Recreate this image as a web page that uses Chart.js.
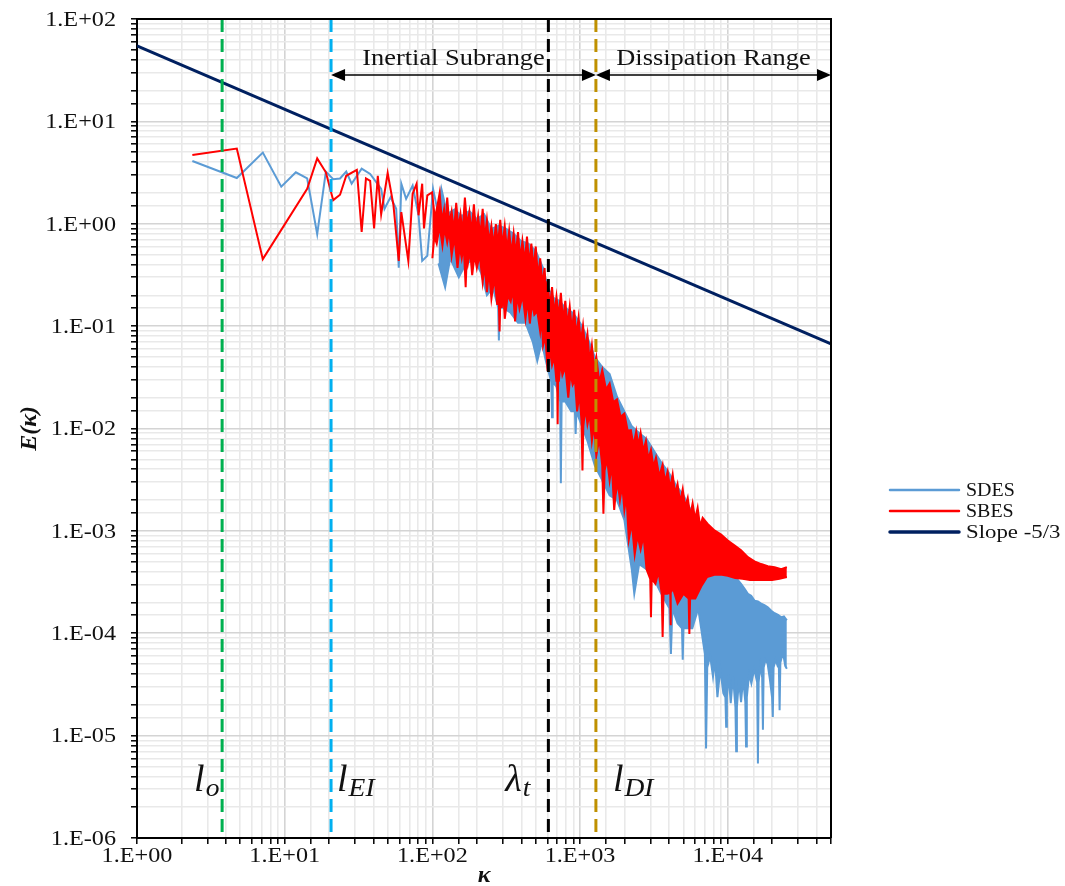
<!DOCTYPE html>
<html><head><meta charset="utf-8">
<script src="https://cdn.jsdelivr.net/npm/chart.js@4.4.0/dist/chart.umd.min.js"></script>
<style>html,body{margin:0;padding:0;background:#fff;}canvas{display:block;}</style>
</head><body>
<canvas id="c" width="1065" height="886"></canvas>
<script>
// ---------- DATA ([kappa, E]) ----------
// SDES: sparse low-wavenumber points, then the upper edge of the dense band
const sdesUpper = [[2.37,4.1],[4.74,2.8],[7.11,4.95],[9.48,2.3],[11.9,3.18],[14.2,2.77],[16.6,0.79],[19.0,3.23],[21.3,2.72],[23.7,2.77],[26.1,3.23],[28.4,2.46],[33.2,3.45],[37.9,3.06],[45.0,2.19],[47.4,1.40],[52.1,1.82],[56.9,1.40],[59.2,0.372],[61.6,2.46],[66.4,1.75],[73.5,2.36],[80.6,1.21],[85.3,0.434],[92.4,0.487],[101,2.19],[109,1.30],
  [115,2.2],[126,1.24],[141,1.38],[158,1.19],[178,1.33],[200,1.11],[224,1.24],[251,0.89],[282,0.96],[316,0.89],[355,0.80],[398,0.68],[447,0.64],[501,0.54],[562,0.37],[603,0.237],[661,0.189],[724,0.177],[794,0.151],[891,0.135],[1000,0.108],[1122,0.0776],[1259,0.0497],[1413,0.0398],[1585,0.0341],[1778,0.0204],[1995,0.0147],[2239,0.0105],[2512,0.00905],[2818,0.00793],[3162,0.00605],[3548,0.00465],[3981,0.00372],[4467,0.00279],[5012,0.00223],[5623,0.0016],[6310,0.00115],[6918,0.000474],[7244,0.000422],[7700,0.000501],[8128,0.000406],[8600,0.000454],[9016,0.000379],[9500,0.00047],[10000,0.000422],[10500,0.000372],[11090,0.000355],[11700,0.000331],[12300,0.000304],[13000,0.000272],[13680,0.000243],[14400,0.000232],[15170,0.000208],[16000,0.000204],[16830,0.000195],[17700,0.000188],[18660,0.000179],[19700,0.000166],[20750,0.000157],[21900,0.000151],[23010,0.000143],[24000,0.000146],[25120,0.000134]];
// SDES: lower edge of the dense band (with its downward spikes)
const sdesLower = [[110,0.41],[122,0.24],[132,0.46],[151,0.30],[166,0.39],[191,0.46],[214,0.329],[234,0.201],[257,0.237],[279,0.151],[282,0.0725],[285,0.151],[302,0.151],[339,0.135],[380,0.108],[427,0.108],[479,0.0696],[513,0.0457],[550,0.0696],[589,0.0446],[638,0.0286],[646,0.0129],[653,0.0286],[692,0.0256],[733,0.0184],[741,0.00292],[750,0.0184],[794,0.0184],[871,0.0147],[923,0.0147],[933,0.00884],[944,0.0147],[1000,0.0118],[1122,0.00757],[1259,0.00434],[1413,0.00312],[1585,0.00223],[1778,0.002],[1995,0.00128],[2239,0.000422],[2328,0.000243],[2512,0.000474],[2818,0.000422],[3162,0.00034],[3548,0.000243],[4027,0.000175],[4121,6.28e-5],[4217,0.000175],[4571,0.000125],[4898,0.000112],[4955,5.5e-5],[5012,0.000112],[5754,0.000112],[6310,0.000175],[6998,6.28e-5],[7129,7.5e-6],[7261,4.62e-5],[7600,6e-5],[7943,3.77e-5],[8200,5.5e-5],[8511,2.37e-5],[8900,4.5e-5],[9333,2.59e-5],[9638,2.37e-5],[9750,1.22e-5],[9863,2.37e-5],[10150,4e-5],[10470,2.08e-5],[10850,3.8e-5],[11270,1.9e-5],[11400,7.03e-6],[11530,1.9e-5],[11900,3.5e-5],[12300,2.12e-5],[12700,3.6e-5],[13150,2.12e-5],[13300,7.84e-6],[13460,2.37e-5],[13950,4e-5],[14450,3.24e-5],[15100,4.5e-5],[15810,3.31e-5],[16000,5.35e-6],[16180,3.31e-5],[16600,4.8e-5],[17100,3.7e-5],[17300,1.14e-5],[17500,4.62e-5],[18000,5.5e-5],[18620,5.03e-5],[19300,3.5e-5],[19950,2.37e-5],[20180,1.52e-5],[20420,4.62e-5],[21100,5.5e-5],[21830,4.73e-5],[22180,4.62e-5],[22440,1.77e-5],[22700,5.16e-5],[23300,6e-5],[23990,5.75e-5],[24500,4.8e-5],[25120,4.5e-5]];
// SBES: sparse points, then the (notched) upper edge of the dense band
const sbesUpper = [[2.37,4.7],[4.74,5.43],[7.11,0.451],[14.2,2.19],[16.6,4.35],[19.0,3.18],[21.3,1.70],[23.7,1.92],[26.1,2.94],[30.8,3.36],[33.2,0.83],[35.5,2.77],[37.9,2.63],[40.3,0.90],[42.7,2.94],[45.0,1.24],[49.8,3.13],[54.5,1.52],[59.2,0.434],[61.6,1.30],[68.7,0.434],[73.5,1.96],[78.2,2.46],[80.6,1.21],[85.3,2.46],[87.7,0.90],[92.4,1.89],[99.5,2.02],[104,1.12],[109,1.60],
  [112,2.0],[116,1.05],[120,1.38],[123,0.9],[126,1.8],[130,1.0],[135,1.32],[140,0.85],[145,1.6],[150,0.9],[155,1.24],[160,0.8],[166,1.8],[172,0.95],[178,1.30],[184,0.8],[191,1.55],[197,0.85],[204,1.19],[211,0.75],[219,1.4],[226,0.7],[234,1.09],[242,0.65],[251,0.95],[260,0.6],[269,0.99],[278,0.62],[288,1.09],[298,0.6],[309,0.95],[320,0.55],[331,0.85],[343,0.5],[355,0.80],[367,0.5],[380,0.83],[393,0.45],[407,0.68],[422,0.42],[437,0.75],[452,0.4],[468,0.64],[484,0.36],[501,0.60],[519,0.3],[537,0.46],[556,0.25],[575,0.37],[589,0.2],[603,0.276],[624,0.15],[646,0.240],[669,0.13],[692,0.194],[716,0.12],[741,0.211],[767,0.11],[794,0.177],[822,0.1],[851,0.155],[881,0.09],[912,0.144],[944,0.08],[977,0.121],[1012,0.07],[1047,0.1015],[1084,0.06],[1122,0.0832],[1161,0.045],[1202,0.065],[1245,0.038],[1288,0.0497],
  [1350,0.028],[1413,0.0373],[1500,0.024],[1585,0.0275],[1680,0.018],[1778,0.0193],[1880,0.013],[1995,0.0140],[2100,0.0095],[2208,0.00963],[2300,0.0068],[2399,0.0094],[2480,0.0068],[2570,0.00905],[2680,0.006],[2793,0.00757],[2900,0.005],[3020,0.00619],[3140,0.0042],[3266,0.00519],[3440,0.0034],[3622,0.00444],[3760,0.003],[3917,0.0038],[4070,0.0026],[4236,0.00357],[4400,0.0023],[4571,0.00286],[4760,0.0019],[4955,0.00256],[5150,0.0017],[5358,0.0021],[5570,0.0014],[5781,0.00186],[6010,0.0013],[6252,0.00168],[6500,0.0011],[6761,0.00134],[7311,0.00117],[8128,0.00101],[9016,0.000922],[10000,0.000804],[11090,0.000721],[12300,0.000646],[13680,0.000553],[15170,0.000504],[16830,0.000474],[18660,0.000452],[20750,0.000442],[23010,0.000422],[25120,0.000442]];
// SBES: lower edge of the dense band
const sbesLower = [[100,0.46],[103,0.75],[107,0.64],[112,0.95],[117,0.613],[121,0.9],[126,0.657],[130,0.85],[135,0.49],[141,0.75],[148,0.37],[153,0.6],[158,0.46],[163,0.62],[168,0.24],[171,0.5],[174,0.41],[180,0.55],[186,0.314],[193,0.5],[200,0.37],[209,0.5],[219,0.269],[226,0.4],[234,0.215],[242,0.35],[251,0.185],[263,0.3],[275,0.161],[280,0.26],[285,0.0885],[290,0.24],[295,0.151],[302,0.22],[309,0.118],[324,0.2],[339,0.174],[351,0.23],[363,0.111],[376,0.2],[389,0.148],[408,0.2],[427,0.118],[442,0.18],[457,0.106],[473,0.17],[490,0.129],[513,0.14],[537,0.0885],[549,0.12],[562,0.065],[582,0.08],[603,0.0365],[624,0.06],[646,0.0416],[669,0.05],[692,0.0286],[699,0.04],[705,0.011],[711,0.04],[718,0.0286],[738,0.045],[759,0.0332],[795,0.04],[832,0.02],[861,0.035],[891,0.0268],[923,0.03],[955,0.0147],[990,0.022],[1023,0.0118],[1038,0.00389],[1052,0.0105],[1087,0.016],[1122,0.011],[1160,0.014],[1202,0.00757],[1245,0.011],[1288,0.00543],[1350,0.008],[1413,0.00434],[1439,0.00147],[1466,0.00389],[1525,0.005],[1585,0.00312],[1640,0.0045],[1702,0.0016],[1738,0.00223],[1800,0.003],[1862,0.002],[1930,0.0028],[1995,0.0016],[2060,0.0022],[2138,0.000822],[2240,0.0012],[2344,0.000589],[2450,0.0009],[2570,0.000657],[2690,0.0009],[2818,0.000422],[2985,0.00034],[3020,0.000143],[3055,0.00034],[3236,0.000304],[3400,0.0004],[3573,0.000243],[3622,9.18e-5],[3673,0.000243],[3890,0.000243],[4080,0.00025],[4100,0.00012],[4120,0.00025],[4266,0.000272],[4571,0.000195],[5012,0.000243],[5433,0.000218],[5495,9.85e-5],[5559,0.000218],[6026,0.000218],[6607,0.000286],[7244,0.000355],[8128,0.000372],[9120,0.000372],[10000,0.000364],[11220,0.000347],[12590,0.00034],[14130,0.000331],[15850,0.000331],[17780,0.000331],[19950,0.000331],[22390,0.00034],[25120,0.000355]];
// Reference line labelled "Slope -5/3"
const slopeLine = [[1, 54.5], [50000, 0.067]];
// Vertical markers
const markerK = [3.77, 20.6, 610, 1280];
const markerMain = ['l', 'l', 'λ', 'l'];
const markerSub = ['o', 'EI', 't', 'DI'];
// Range annotations
const rangeFrom = [20.6, 1280];
const rangeTo = [1280, 50000];
const rangeText = ['Inertial Subrange', 'Dissipation Range'];
// Ticks
const xTickValues = [1, 10, 100, 1000, 10000];
const xTickLabels = ['1.E+00', '1.E+01', '1.E+02', '1.E+03', '1.E+04'];
const yTickValues = [1e-6, 1e-5, 1e-4, 1e-3, 1e-2, 1e-1, 1, 10, 100];
const yTickLabels = ['1.E-06', '1.E-05', '1.E-04', '1.E-03', '1.E-02', '1.E-01', '1.E+00', '1.E+01', '1.E+02'];
const seriesNames = ['SDES', 'SBES', 'Slope -5/3'];

// ---------- STYLE ----------
const C_SDES = '#5b9bd5', C_SBES = '#ff0000', C_SLOPE = '#002060';
const markerColors = ['#00b050', '#00b0f0', '#000000', '#bf9000'];
const markerDx = [-28, 6, -43, 17];
const rangeDx = [-10, 0];
const legendSx = [1.05, 1.05, 1.2];
const FONT = '"Liberation Serif","Times New Roman",serif';
const SX = 1.1;
const TXT = '#111111';

function pts(p) { return p.map(([x, y]) => ({ x, y })); }
function isMajor(v) { if (!v) return false; const l = Math.log10(v); return Math.abs(l - Math.round(l)) < 1e-7; }
function txt(ctx, s, x, y, size, o = {}) {
  const align = o.align || 'left', style = o.style || '', sx = o.sx || SX;
  ctx.save();
  ctx.font = `${style} ${size}px ${FONT}`;
  ctx.fillStyle = o.color || TXT;
  ctx.textBaseline = o.baseline || 'alphabetic';
  ctx.textAlign = 'left';
  const w = ctx.measureText(s).width * sx;
  const left = align === 'center' ? x - w / 2 : align === 'right' ? x - w : x;
  ctx.translate(left, y); ctx.scale(sx, 1); ctx.fillText(s, 0, 0);
  ctx.restore();
  return w;
}
function arrow(ctx, x1, x2, y) {
  const L = 14, H = 6;
  ctx.save();
  ctx.strokeStyle = '#000'; ctx.fillStyle = '#000'; ctx.lineWidth = 1.5;
  ctx.beginPath(); ctx.moveTo(x1 + L - 2, y); ctx.lineTo(x2 - L + 2, y); ctx.stroke();
  ctx.beginPath(); ctx.moveTo(x1, y); ctx.lineTo(x1 + L, y - H); ctx.lineTo(x1 + L, y + H); ctx.closePath(); ctx.fill();
  ctx.beginPath(); ctx.moveTo(x2, y); ctx.lineTo(x2 - L, y - H); ctx.lineTo(x2 - L, y + H); ctx.closePath(); ctx.fill();
  ctx.restore();
}

const decor = {
  id: 'decor',
  afterDraw(chart) {
    const { ctx, chartArea: a, scales: { x: xs, y: ys } } = chart;
    ctx.save();
    ctx.strokeStyle = '#000'; ctx.lineWidth = 2;
    ctx.beginPath(); ctx.moveTo(a.left, a.top); ctx.lineTo(a.right, a.top); ctx.lineTo(a.right, a.bottom); ctx.stroke();
    ctx.restore();
    yTickValues.forEach((v, i) => txt(ctx, yTickLabels[i], a.left - 21, ys.getPixelForValue(v) + 1, 22, { align: 'right', baseline: 'middle' }));
    xTickValues.forEach((v, i) => txt(ctx, xTickLabels[i], xs.getPixelForValue(v), a.bottom + 18, 22, { align: 'center', baseline: 'middle' }));
    const ay = a.top + 56;
    rangeFrom.forEach((f, i) => {
      const x1 = xs.getPixelForValue(f), x2 = Math.min(xs.getPixelForValue(rangeTo[i]), a.right);
      arrow(ctx, x1, x2, ay);
      txt(ctx, rangeText[i], (x1 + x2) / 2 + rangeDx[i], a.top + 40, 24, { align: 'center', baseline: 'middle' });
    });
    markerK.forEach((k, i) => {
      const px = xs.getPixelForValue(k) + markerDx[i];
      const w = txt(ctx, markerMain[i], px, a.bottom - 47, 38, { style: 'italic', sx: 1 });
      txt(ctx, markerSub[i], px + w + 1, a.bottom - 42, 25, { style: 'italic' });
    });
    const lc = [C_SDES, C_SBES, C_SLOPE], lw = [2.5, 2.5, 3.5], ly = [490, 511, 532];
    seriesNames.forEach((n, i) => {
      ctx.save(); ctx.strokeStyle = lc[i]; ctx.lineWidth = lw[i]; ctx.lineCap = 'round';
      ctx.beginPath(); ctx.moveTo(890, ly[i]); ctx.lineTo(959, ly[i]); ctx.stroke(); ctx.restore();
      txt(ctx, n, 966, ly[i] + 1, 19, { baseline: 'middle', sx: legendSx[i] });
    });
    txt(ctx, 'κ', (a.left + a.right) / 2, 876, 24, { style: 'italic bold', align: 'center', baseline: 'middle', sx: 1 });
    ctx.save(); ctx.translate(30, (a.top + a.bottom) / 2); ctx.rotate(-Math.PI / 2);
    txt(ctx, 'E(κ)', 0, 0, 24, { style: 'italic bold', align: 'center', baseline: 'middle', sx: 1 });
    ctx.restore();
  }
};

const gridOpts = {
  color: c => (c.tick && isMajor(c.tick.value)) ? '#d4d4d4' : '#e9e9e9',
  lineWidth: 1.6,
  drawTicks: true, tickLength: 6, tickColor: '#000', tickWidth: 1.5
};

const datasets = [
  { label: 'SDES', data: pts(sdesUpper), borderColor: C_SDES, backgroundColor: C_SDES, borderWidth: 2, order: 6, fill: false },
  { label: 'SDES lower', data: pts(sdesLower), borderColor: C_SDES, backgroundColor: C_SDES, borderWidth: 2, order: 5, fill: '-1' },
  { label: 'SBES', data: pts(sbesUpper), borderColor: C_SBES, backgroundColor: C_SBES, borderWidth: 2, order: 4, fill: false },
  { label: 'SBES lower', data: pts(sbesLower), borderColor: C_SBES, backgroundColor: C_SBES, borderWidth: 2, order: 3, fill: '-1' },
  { label: 'Slope -5/3', data: pts(slopeLine), borderColor: C_SLOPE, borderWidth: 3, order: 2, fill: false }
];
markerK.forEach((k, i) => datasets.push({
  label: 'marker' + i, data: [{ x: k, y: 100 }, { x: k, y: 1e-6 }], borderColor: markerColors[i],
  borderWidth: 3, borderDash: [13, 7], borderCapStyle: 'butt', order: 1, fill: false
}));

new Chart(document.getElementById('c'), {
  type: 'line',
  data: { datasets },
  options: {
    responsive: false, animation: false, devicePixelRatio: 1,
    layout: { padding: { top: 19, right: 234, left: 0, bottom: 0 } },
    elements: { point: { radius: 0, hoverRadius: 0 }, line: { tension: 0, borderJoinStyle: 'miter' } },
    plugins: { legend: { display: false }, tooltip: { enabled: false }, filler: { propagate: false } },
    events: [],
    scales: {
      x: { type: 'logarithmic', min: 1, max: 50000,
        afterFit: s => { s.height = 48; },
        ticks: { display: false, autoSkip: false }, grid: gridOpts,
        border: { display: true, color: '#000', width: 2 } },
      y: { type: 'logarithmic', min: 1e-6, max: 100,
        afterFit: s => { s.width = 137; },
        ticks: { display: false, autoSkip: false }, grid: gridOpts,
        border: { display: true, color: '#000', width: 2 } }
    }
  },
  plugins: [decor]
});
</script>
</body></html>
